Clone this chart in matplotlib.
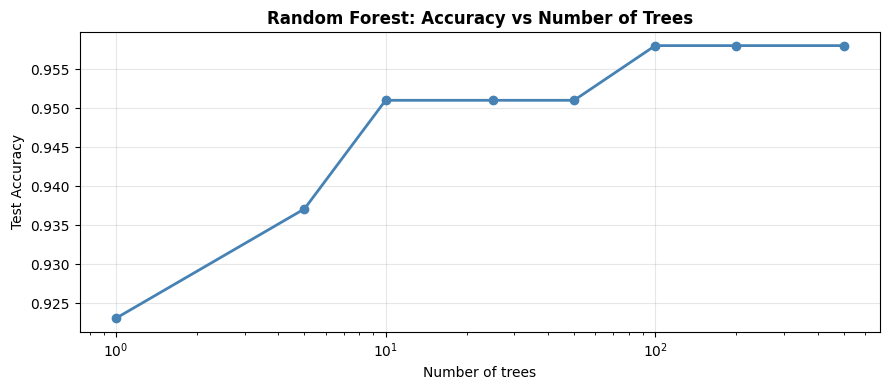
import matplotlib
matplotlib.use("Agg")
import matplotlib.pyplot as plt

n_trees = [1, 5, 10, 25, 50, 100, 200, 500]
accuracy = [0.9231, 0.9371, 0.9510, 0.9510, 0.9510, 0.9580, 0.9580, 0.9580]

fig, ax = plt.subplots(figsize=(8.89, 3.9), dpi=100)
ax.plot(n_trees, accuracy, marker='o', color='steelblue', linewidth=2, markersize=6)
ax.set_xscale('log')
ax.set_xlabel('Number of trees')
ax.set_ylabel('Test Accuracy')
ax.set_title('Random Forest: Accuracy vs Number of Trees', fontweight='bold')
ax.grid(True, alpha=0.3)
plt.subplots_adjust(left=0.0895, right=0.990, top=0.918, bottom=0.149)
plt.savefig('out.png', dpi=100)
